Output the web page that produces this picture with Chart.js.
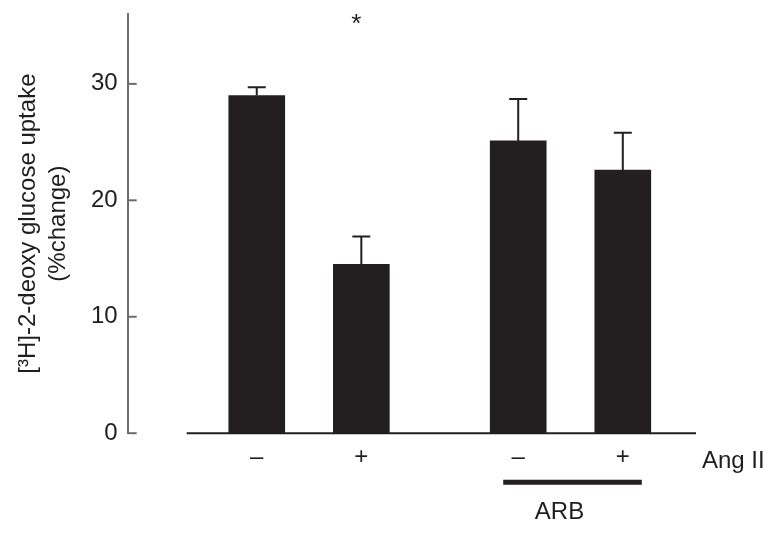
<!DOCTYPE html>
<html>
<head>
<meta charset="utf-8">
<script src="https://cdn.jsdelivr.net/npm/chart.js@4"></script>
<style>
  html, body { margin: 0; padding: 0; background: #ffffff; }
  #wrap { width: 775px; height: 538px; }
</style>
</head>
<body>
<div id="wrap"><canvas id="c" width="775" height="538"></canvas></div>
<script>
// ---- data ----
const categories = ['–', '+', '–', '+'];          // Ang II absent / present
const uptake = [29.0, 14.5, 25.1, 22.6];            // % change
const uptakeSE = [0.7, 2.4, 3.6, 3.2];              // upper error
const significance = ['', '*', '', ''];
const yTickValues = [0, 10, 20, 30];
const factorLabel = 'Ang II';
const groupLabel = 'ARB';
const groupMembers = [2, 3];
const yTitle = ['[³H]-2-deoxy glucose uptake', '(%change)'];

// ---- layout (not data) ----
const slots = [0, 1, 2.5, 3.5];
const xMin = -1.234, xMax = 4.2, xAxisStart = -0.67;
const yMin = 0, yMax = 36;
const INK = '#231f20';
const TXT = '#1e1e1e';
const FONT = "'Liberation Sans', Arial, Helvetica, sans-serif";
const FS = 24;

Chart.defaults.font.family = FONT;
Chart.defaults.color = TXT;

const extras = {
  id: 'extras',
  afterDatasetsDraw(chart) {
    const {ctx, chartArea, scales: {x, y}} = chart;
    const meta = chart.getDatasetMeta(0);
    ctx.save();
    // error bars
    ctx.strokeStyle = INK;
    ctx.lineWidth = 2;
    meta.data.forEach((el, i) => {
      const top = y.getPixelForValue(uptake[i] + uptakeSE[i]);
      ctx.beginPath();
      ctx.moveTo(el.x, el.y);
      ctx.lineTo(el.x, top);
      ctx.moveTo(el.x - 9, top);
      ctx.lineTo(el.x + 9, top);
      ctx.stroke();
    });
    // significance marks
    ctx.fillStyle = INK;
    ctx.font = `26px ${FONT}`;
    ctx.textAlign = 'center';
    ctx.textBaseline = 'middle';
    meta.data.forEach((el, i) => {
      if (significance[i]) ctx.fillText(significance[i], el.x - 5, chartArea.top + 11);
    });
    // x axis line
    ctx.strokeStyle = INK;
    ctx.lineWidth = 2;
    ctx.beginPath();
    ctx.moveTo(x.getPixelForValue(xAxisStart), chartArea.bottom);
    ctx.lineTo(chartArea.right, chartArea.bottom);
    ctx.stroke();
    // inward y tick marks
    ctx.strokeStyle = '#6b6b6b';
    ctx.lineWidth = 2;
    yTickValues.forEach(v => {
      const py = y.getPixelForValue(v);
      ctx.beginPath();
      ctx.moveTo(chartArea.left, py);
      ctx.lineTo(chartArea.left + 9, py);
      ctx.stroke();
    });
    // factor label
    ctx.fillStyle = TXT;
    ctx.font = `${FS}px ${FONT}`;
    ctx.textAlign = 'left';
    ctx.textBaseline = 'middle';
    ctx.fillText(factorLabel, chartArea.right + 6, chartArea.bottom + 28);
    // group bracket
    const gx0 = x.getPixelForValue(slots[groupMembers[0]]) - 15;
    const gx1 = x.getPixelForValue(slots[groupMembers[1]]) + 19;
    const gy = chartArea.bottom + 49;
    ctx.strokeStyle = INK;
    ctx.lineWidth = 5;
    ctx.beginPath();
    ctx.moveTo(gx0, gy);
    ctx.lineTo(gx1, gy);
    ctx.stroke();
    ctx.textAlign = 'center';
    ctx.fillText(groupLabel, (gx0 + gx1) / 2 - 13, chartArea.bottom + 79);
    ctx.restore();
  }
};

new Chart(document.getElementById('c'), {
  type: 'bar',
  data: {
    datasets: [{
      data: slots.map((s, i) => ({x: s, y: uptake[i]})),
      backgroundColor: INK,
      borderWidth: 0,
      barThickness: 56
    }]
  },
  options: {
    responsive: false,
    animation: false,
    devicePixelRatio: 1,
    layout: { padding: { left: 13, right: 79, top: 14, bottom: 56 } },
    plugins: { legend: { display: false }, tooltip: { enabled: false } },
    scales: {
      x: {
        type: 'linear',
        min: xMin, max: xMax,
        offset: false,
        grid: { display: false, drawTicks: false },
        border: { display: false },
        afterBuildTicks: s => { s.ticks = slots.map(v => ({value: v})); },
        ticks: {
          callback: (v, i) => categories[i],
          autoSkip: false, maxRotation: 0,
          padding: 10,
          font: { size: FS }, color: TXT
        }
      },
      y: {
        min: yMin, max: yMax,
        grid: { display: false, drawTicks: false },
        border: { display: true, color: '#6b6b6b', width: 2 },
        afterBuildTicks: s => { s.ticks = yTickValues.map(v => ({value: v})); },
        afterFit: s => { s.paddingTop = 0; },
        ticks: { padding: 10, font: { size: FS }, color: TXT },
        title: {
          display: true, text: yTitle,
          font: { size: FS, lineHeight: 1.25 }, color: TXT,
          padding: { top: 0, bottom: 8 }
        }
      }
    }
  },
  plugins: [extras]
});
</script>
</body>
</html>
